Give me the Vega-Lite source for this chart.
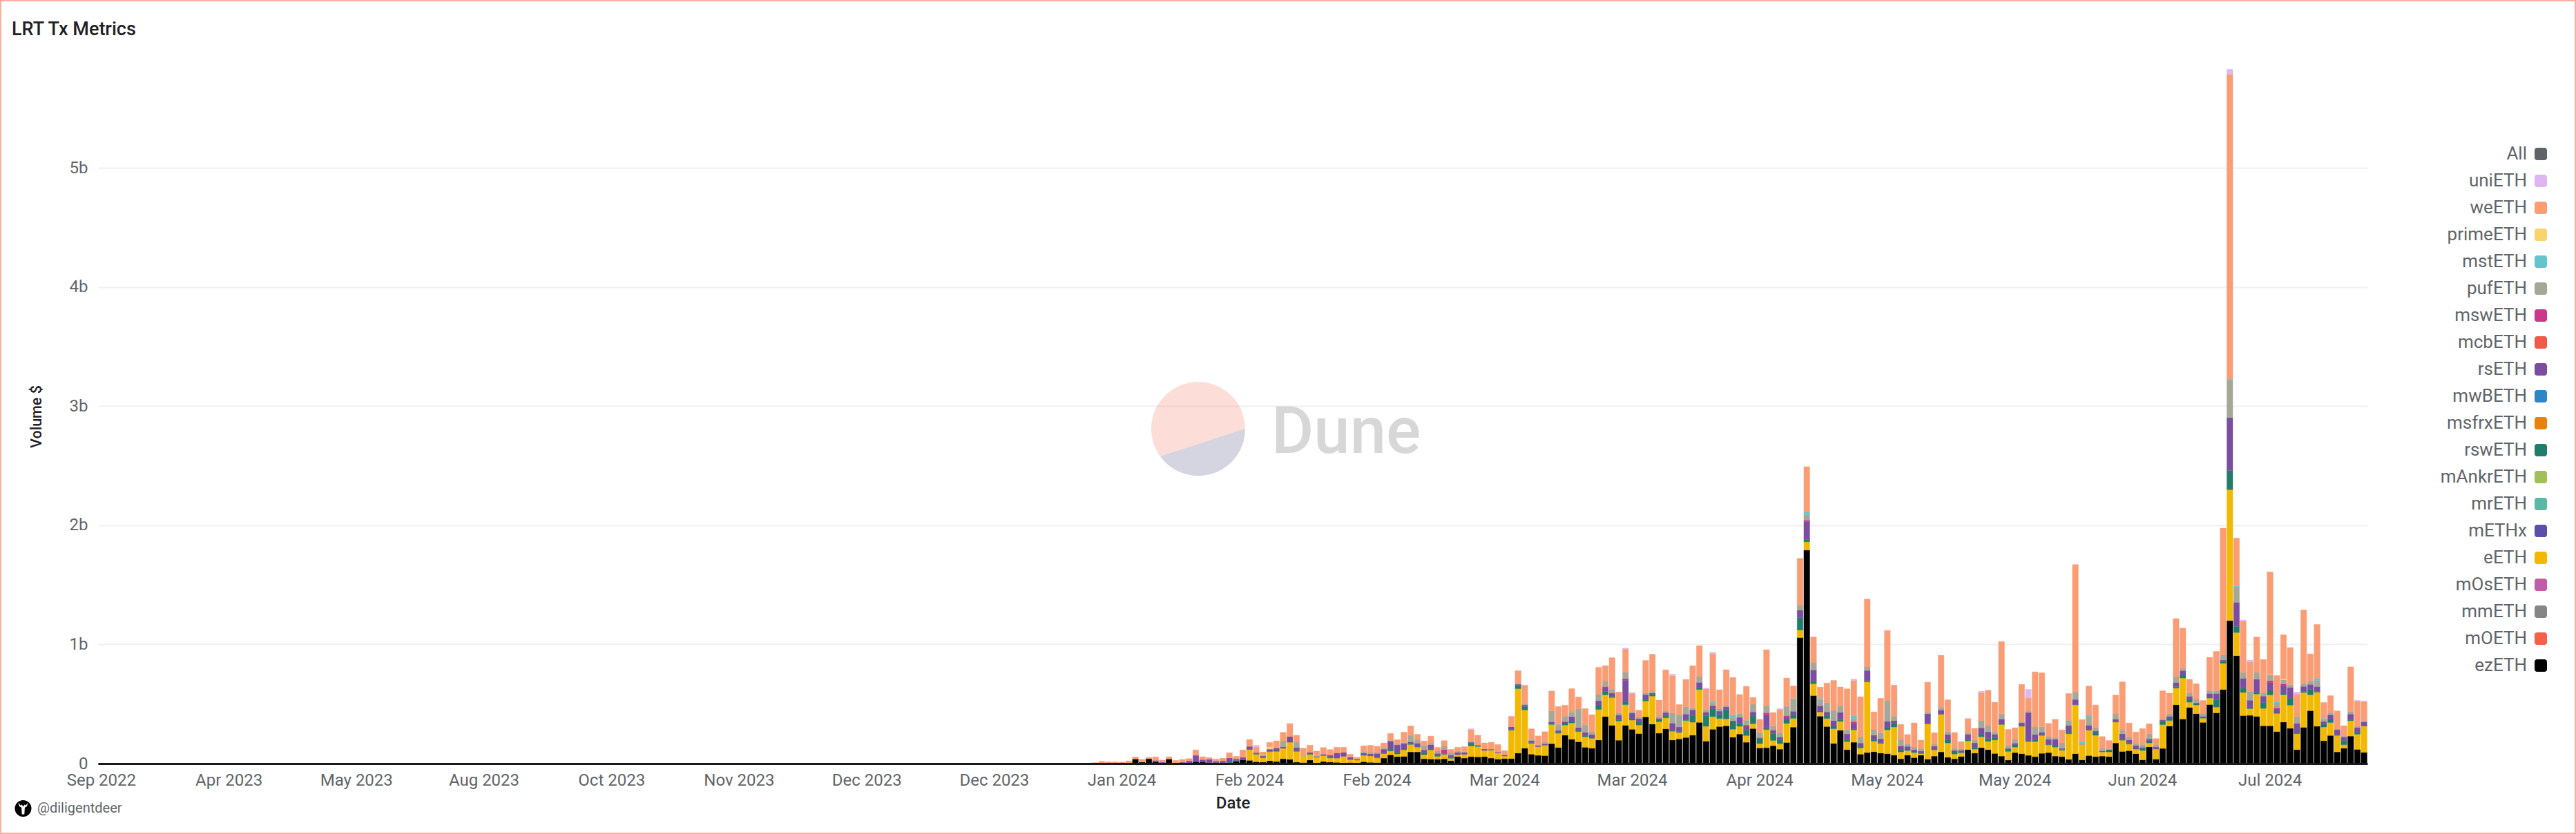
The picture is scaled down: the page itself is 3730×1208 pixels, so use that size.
{"$schema":"https://vega.github.io/schema/vega-lite/v6.json","width":3286,"height":1006,"autosize":{"type":"none"},"padding":{"left":142,"top":100,"right":302,"bottom":102},"background":"#ffffff","config":{"view":{"stroke":null},"font":"Roboto"},"title":{"text":"LRT Tx Metrics","anchor":"start","frame":"group","dx":-125,"dy":84,"offset":0,"baseline":"bottom","font":"Roboto","fontSize":27,"fontWeight":500,"color":"#1f2226"},"layer":[{"data":{"values":[
{"date":"2022-09-16","ezETH":2},{"date":"2023-03-25","ezETH":2},{"date":"2023-03-26","ezETH":2},{"date":"2023-03-27","ezETH":2},{"date":"2023-03-28","ezETH":2},{"date":"2023-03-29","ezETH":2},{"date":"2023-03-30","ezETH":2},{"date":"2023-03-31","ezETH":2},{"date":"2023-04-01","ezETH":2},{"date":"2023-04-02","ezETH":2},{"date":"2023-04-03","ezETH":2},{"date":"2023-04-04","ezETH":2},{"date":"2023-04-05","ezETH":2},{"date":"2023-04-06","ezETH":2},{"date":"2023-04-07","ezETH":2},{"date":"2023-04-08","ezETH":2},{"date":"2023-04-09","ezETH":2},{"date":"2023-04-10","ezETH":2},{"date":"2023-04-11","ezETH":2},{"date":"2023-04-12","ezETH":2},{"date":"2023-04-13","ezETH":2},{"date":"2023-04-14","ezETH":2},{"date":"2023-04-15","ezETH":2},{"date":"2023-04-16","ezETH":2},{"date":"2023-04-17","ezETH":2},{"date":"2023-04-18","ezETH":2},{"date":"2023-04-19","ezETH":2},{"date":"2023-04-20","ezETH":2},{"date":"2023-04-21","ezETH":2},{"date":"2023-04-22","ezETH":2},{"date":"2023-04-23","ezETH":2},{"date":"2023-04-24","ezETH":2},{"date":"2023-04-25","ezETH":2},{"date":"2023-04-26","ezETH":2},{"date":"2023-04-27","ezETH":2},{"date":"2023-04-28","ezETH":2},{"date":"2023-04-29","ezETH":2},{"date":"2023-04-30","ezETH":2},{"date":"2023-05-01","ezETH":2},{"date":"2023-05-06","ezETH":2},{"date":"2023-05-11","ezETH":2},{"date":"2023-05-16","ezETH":2},{"date":"2023-05-21","ezETH":2},{"date":"2023-05-26","ezETH":2},{"date":"2023-05-31","ezETH":2},{"date":"2023-06-05","ezETH":2},{"date":"2023-06-10","ezETH":2},{"date":"2023-06-15","ezETH":2},{"date":"2023-06-20","ezETH":2},{"date":"2023-06-25","ezETH":2},{"date":"2023-06-30","ezETH":2},{"date":"2023-07-05","ezETH":2},{"date":"2023-07-10","ezETH":2},{"date":"2023-07-15","ezETH":2},{"date":"2023-07-20","ezETH":2},{"date":"2023-07-25","ezETH":2},{"date":"2023-07-30","ezETH":2},{"date":"2023-08-04","ezETH":2},{"date":"2023-08-08","ezETH":2},{"date":"2023-08-12","ezETH":2},{"date":"2023-08-16","ezETH":2},{"date":"2023-08-20","ezETH":2},{"date":"2023-08-24","ezETH":2},{"date":"2023-08-28","ezETH":2},{"date":"2023-09-01","ezETH":2},{"date":"2023-09-05","ezETH":2},{"date":"2023-09-09","ezETH":2},{"date":"2023-09-13","ezETH":2},{"date":"2023-09-17","ezETH":2},{"date":"2023-09-21","ezETH":2},{"date":"2023-09-25","ezETH":2},{"date":"2023-09-29","ezETH":2},{"date":"2023-10-03","ezETH":2},{"date":"2023-10-07","ezETH":2},{"date":"2023-10-11","ezETH":2},{"date":"2023-10-15","ezETH":2},{"date":"2023-10-31","ezETH":2},{"date":"2023-11-01","ezETH":2},{"date":"2023-11-02","ezETH":2},{"date":"2023-11-03","ezETH":2},{"date":"2023-11-04","ezETH":2},{"date":"2023-11-05","ezETH":2},{"date":"2023-11-06","ezETH":2},{"date":"2023-11-07","ezETH":2},{"date":"2023-11-08","ezETH":2},{"date":"2023-11-09","ezETH":2},{"date":"2023-11-10","ezETH":2},{"date":"2023-11-11","ezETH":2},{"date":"2023-11-12","ezETH":2},{"date":"2023-11-13","ezETH":2},{"date":"2023-11-14","ezETH":2},{"date":"2023-11-15","ezETH":2},{"date":"2023-11-16","ezETH":2},{"date":"2023-11-17","ezETH":2},{"date":"2023-11-18","ezETH":2},{"date":"2023-11-19","ezETH":2},{"date":"2023-11-20","ezETH":2},{"date":"2023-11-21","ezETH":2},{"date":"2023-11-22","ezETH":2},{"date":"2023-11-23","ezETH":2},{"date":"2023-11-24","ezETH":2},{"date":"2023-11-25","ezETH":2},{"date":"2023-11-26","ezETH":2},{"date":"2023-11-27","ezETH":2},{"date":"2023-11-28","ezETH":2},{"date":"2023-11-29","ezETH":2},{"date":"2023-11-30","ezETH":2},{"date":"2023-12-01","ezETH":2},{"date":"2023-12-02","ezETH":2},{"date":"2023-12-03","ezETH":2},{"date":"2023-12-04","ezETH":2},{"date":"2023-12-05","ezETH":2},{"date":"2023-12-06","ezETH":2},{"date":"2023-12-07","ezETH":2},{"date":"2023-12-08","ezETH":2},{"date":"2023-12-09","ezETH":2},{"date":"2023-12-10","ezETH":2},{"date":"2023-12-11","ezETH":2},{"date":"2023-12-12","ezETH":2},{"date":"2023-12-13","ezETH":2},{"date":"2023-12-14","ezETH":2},{"date":"2023-12-15","ezETH":2},{"date":"2023-12-16","ezETH":2},{"date":"2023-12-17","ezETH":2},{"date":"2023-12-18","ezETH":2},{"date":"2023-12-19","ezETH":2},{"date":"2023-12-20","ezETH":2},{"date":"2023-12-21","ezETH":2},{"date":"2023-12-22","ezETH":2},{"date":"2023-12-23","ezETH":2},{"date":"2023-12-24","ezETH":2},{"date":"2023-12-25","ezETH":2},{"date":"2023-12-26","ezETH":2},{"date":"2023-12-27","ezETH":2},{"date":"2023-12-28","ezETH":2},{"date":"2023-12-29","ezETH":2},{"date":"2023-12-30","ezETH":2},{"date":"2023-12-31","ezETH":2},{"date":"2024-01-01","ezETH":2},{"date":"2024-01-02","ezETH":2},{"date":"2024-01-03","ezETH":2},{"date":"2024-01-04","ezETH":2},{"date":"2024-01-05","ezETH":2},{"date":"2024-01-06","ezETH":2},{"date":"2024-01-07","ezETH":2},{"date":"2024-01-08","ezETH":2},{"date":"2024-01-09","ezETH":2},{"date":"2024-01-10","ezETH":2},{"date":"2024-01-11","ezETH":2,"weETH":6},{"date":"2024-01-12","ezETH":2,"weETH":17},{"date":"2024-01-13","ezETH":2,"weETH":13},{"date":"2024-01-14","ezETH":2,"weETH":13},
{"date":"2024-01-15","ezETH":4,"weETH":10},{"date":"2024-01-16","ezETH":6,"eETH":2,"weETH":15},{"date":"2024-01-17","ezETH":38,"weETH":17},{"date":"2024-01-18","ezETH":12,"weETH":23},{"date":"2024-01-19","ezETH":40,"weETH":12},{"date":"2024-01-20","ezETH":15,"rsETH":12,"weETH":29},{"date":"2024-01-21","ezETH":4,"rsETH":8,"weETH":17},{"date":"2024-01-22","ezETH":38,"weETH":19},{"date":"2024-01-23","ezETH":6,"weETH":21},{"date":"2024-01-24","ezETH":4,"rsETH":8,"weETH":23},{"date":"2024-01-25","ezETH":4,"rsETH":19,"weETH":19},{"date":"2024-01-26","ezETH":15,"rsETH":54,"weETH":46},{"date":"2024-01-27","ezETH":12,"rsETH":21,"weETH":25},{"date":"2024-01-28","ezETH":6,"rsETH":29,"weETH":15},{"date":"2024-01-29","ezETH":6,"rsETH":15,"weETH":17},{"date":"2024-01-30","ezETH":6,"rsETH":17,"weETH":23},{"date":"2024-01-31","ezETH":6,"rswETH":6,"rsETH":35,"weETH":44},{"date":"2024-02-01","ezETH":19,"rswETH":8,"rsETH":12,"weETH":23},{"date":"2024-02-02","ezETH":31,"rsETH":21,"weETH":62},{"date":"2024-02-03","ezETH":27,"eETH":90,"rsETH":27,"weETH":58},{"date":"2024-02-04","ezETH":15,"eETH":63,"rswETH":6,"rsETH":8,"weETH":48,"uniETH":15},{"date":"2024-02-05","ezETH":12,"eETH":37,"rswETH":8,"rsETH":8,"weETH":33},{"date":"2024-02-06","ezETH":23,"eETH":77,"rsETH":21,"primeETH":19,"weETH":38},{"date":"2024-02-07","ezETH":17,"eETH":85,"rswETH":8,"rsETH":21,"weETH":60},{"date":"2024-02-08","ezETH":40,"eETH":88,"rsETH":13,"pufETH":50,"weETH":71},{"date":"2024-02-09","ezETH":35,"eETH":144,"rsETH":48,"weETH":104,"uniETH":8},{"date":"2024-02-10","ezETH":12,"eETH":90,"rswETH":6,"rsETH":27,"pufETH":48,"weETH":54},{"date":"2024-02-11","ezETH":8,"eETH":54,"pufETH":6,"weETH":62},{"date":"2024-02-12","ezETH":29,"eETH":48,"rswETH":4,"rsETH":12,"weETH":62},{"date":"2024-02-13","ezETH":6,"eETH":48,"rswETH":6,"pufETH":8,"weETH":37},{"date":"2024-02-14","ezETH":17,"eETH":50,"rsETH":12,"weETH":56},{"date":"2024-02-15","ezETH":12,"eETH":35,"rswETH":8,"rsETH":15,"weETH":48},{"date":"2024-02-16","ezETH":10,"eETH":35,"rsETH":44,"weETH":48},{"date":"2024-02-17","ezETH":6,"eETH":54,"rsETH":33,"weETH":44},{"date":"2024-02-18","ezETH":8,"eETH":25,"rsETH":21,"weETH":25},{"date":"2024-02-19","ezETH":6,"eETH":23,"rsETH":8,"weETH":15},{"date":"2024-02-20","ezETH":15,"eETH":54,"rswETH":6,"rsETH":13,"pufETH":15,"weETH":46},{"date":"2024-02-21","ezETH":10,"eETH":54,"rsETH":17,"pufETH":12,"weETH":61},{"date":"2024-02-22","ezETH":8,"eETH":40,"rsETH":37,"pufETH":8,"weETH":52},{"date":"2024-02-23","ezETH":46,"eETH":38,"rswETH":4,"rsETH":33,"pufETH":10,"weETH":42},{"date":"2024-02-24","ezETH":73,"eETH":33,"rswETH":21,"rsETH":62,"pufETH":6,"weETH":58},{"date":"2024-02-25","ezETH":58,"eETH":23,"rswETH":13,"rsETH":63,"pufETH":6,"weETH":38},{"date":"2024-02-26","ezETH":60,"eETH":56,"rsETH":52,"pufETH":8,"weETH":88},{"date":"2024-02-27","ezETH":98,"eETH":62,"rswETH":10,"rsETH":13,"pufETH":54,"weETH":79},{"date":"2024-02-28","ezETH":98,"eETH":40,"rsETH":33,"pufETH":31,"weETH":44},{"date":"2024-02-29","ezETH":40,"eETH":35,"rswETH":21,"rsETH":19,"pufETH":37,"weETH":38},
{"date":"2024-03-01","ezETH":38,"eETH":77,"rswETH":10,"rsETH":33,"pufETH":15,"weETH":58},{"date":"2024-03-02","ezETH":37,"eETH":23,"rswETH":12,"rsETH":10,"mswETH":4,"pufETH":21,"weETH":29},{"date":"2024-03-03","ezETH":40,"eETH":37,"rswETH":8,"mswETH":33,"pufETH":27,"weETH":48},{"date":"2024-03-04","ezETH":25,"eETH":19,"rswETH":6,"rsETH":21,"pufETH":21,"weETH":27},{"date":"2024-03-05","ezETH":58,"eETH":17,"rsETH":19,"pufETH":12,"weETH":31},{"date":"2024-03-06","ezETH":46,"eETH":31,"rsETH":17,"pufETH":6,"weETH":42},{"date":"2024-03-07","ezETH":58,"eETH":90,"rswETH":25,"rsETH":6,"pufETH":6,"weETH":100,"uniETH":8},{"date":"2024-03-08","ezETH":56,"eETH":87,"rswETH":6,"rsETH":6,"weETH":83},{"date":"2024-03-09","ezETH":58,"eETH":52,"rsETH":12,"weETH":52},{"date":"2024-03-10","ezETH":46,"eETH":67,"rsETH":8,"weETH":58},{"date":"2024-03-11","ezETH":37,"eETH":52,"rsETH":8,"weETH":63},{"date":"2024-03-12","ezETH":42,"eETH":21,"rsETH":10,"weETH":35},{"date":"2024-03-13","ezETH":42,"eETH":238,"rswETH":8,"rsETH":21,"weETH":85,"uniETH":6},{"date":"2024-03-14","ezETH":88,"eETH":540,"rswETH":25,"rsETH":13,"pufETH":8,"weETH":106},{"date":"2024-03-15","ezETH":129,"eETH":321,"rswETH":29,"rsETH":13,"pufETH":10,"weETH":152,"uniETH":6},{"date":"2024-03-16","ezETH":79,"eETH":90,"rswETH":8,"rsETH":15,"pufETH":8,"weETH":92},{"date":"2024-03-17","ezETH":69,"eETH":73,"rsETH":10,"pufETH":8,"weETH":73},{"date":"2024-03-18","ezETH":67,"eETH":87,"rsETH":12,"pufETH":15,"weETH":87},{"date":"2024-03-19","ezETH":167,"eETH":161,"rswETH":10,"rsETH":12,"pufETH":92,"weETH":167},{"date":"2024-03-20","ezETH":135,"eETH":119,"rswETH":8,"rsETH":17,"pufETH":50,"weETH":150},{"date":"2024-03-21","ezETH":238,"eETH":85,"rswETH":19,"rsETH":10,"pufETH":46,"weETH":92},{"date":"2024-03-22","ezETH":204,"eETH":137,"rswETH":13,"rsETH":37,"mswETH":4,"pufETH":38,"weETH":196},{"date":"2024-03-23","ezETH":183,"eETH":85,"rswETH":12,"rsETH":23,"pufETH":156,"weETH":100},{"date":"2024-03-24","ezETH":137,"eETH":88,"rswETH":8,"rsETH":29,"pufETH":62,"weETH":138},{"date":"2024-03-25","ezETH":129,"eETH":83,"rswETH":8,"rsETH":23,"pufETH":25,"weETH":142},{"date":"2024-03-26","ezETH":198,"eETH":256,"rswETH":33,"rsETH":40,"pufETH":54,"weETH":227},{"date":"2024-03-27","ezETH":394,"eETH":183,"rswETH":29,"rsETH":31,"mswETH":10,"pufETH":48,"weETH":127},{"date":"2024-03-28","ezETH":321,"eETH":233,"rswETH":12,"rsETH":25,"pufETH":29,"weETH":269},{"date":"2024-03-29","ezETH":196,"eETH":161,"rswETH":12,"rsETH":38,"pufETH":17,"weETH":177},{"date":"2024-03-30","ezETH":321,"eETH":173,"rswETH":23,"rsETH":183,"mswETH":13,"pufETH":54,"weETH":194,"uniETH":8},{"date":"2024-03-31","ezETH":288,"eETH":77,"rswETH":12,"rsETH":46,"pufETH":15,"weETH":152,"uniETH":6},
{"date":"2024-04-01","ezETH":252,"eETH":71,"rswETH":25,"rsETH":29,"pufETH":13,"weETH":58},{"date":"2024-04-02","ezETH":392,"eETH":133,"rswETH":13,"rsETH":40,"pufETH":17,"weETH":271},{"date":"2024-04-03","ezETH":331,"eETH":236,"rswETH":17,"rsETH":8,"pufETH":15,"weETH":311},{"date":"2024-04-04","ezETH":255,"eETH":96,"rswETH":19,"rsETH":10,"pufETH":15,"weETH":138},{"date":"2024-04-05","ezETH":292,"eETH":92,"rswETH":19,"rsETH":25,"pufETH":13,"weETH":346},{"date":"2024-04-06","ezETH":198,"eETH":73,"rswETH":10,"rsETH":58,"pufETH":85,"weETH":315,"uniETH":12},{"date":"2024-04-07","ezETH":207,"eETH":54,"rswETH":10,"rsETH":37,"pufETH":102,"weETH":86},{"date":"2024-04-08","ezETH":219,"eETH":142,"rswETH":8,"rsETH":46,"pufETH":61,"weETH":230},{"date":"2024-04-09","ezETH":238,"eETH":109,"rswETH":58,"rsETH":46,"pufETH":15,"weETH":355},{"date":"2024-04-10","ezETH":346,"eETH":275,"rswETH":21,"rsETH":40,"pufETH":48,"weETH":259},{"date":"2024-04-11","ezETH":188,"eETH":125,"rswETH":90,"rsETH":29,"pufETH":21,"weETH":173,"uniETH":8},{"date":"2024-04-12","ezETH":288,"eETH":106,"rswETH":67,"rsETH":25,"pufETH":29,"mstETH":8,"weETH":401,"uniETH":10},{"date":"2024-04-13","ezETH":311,"eETH":67,"rswETH":37,"rsETH":25,"pufETH":19,"weETH":161},{"date":"2024-04-14","ezETH":317,"eETH":58,"rswETH":79,"rsETH":21,"pufETH":12,"weETH":301},{"date":"2024-04-15","ezETH":221,"eETH":67,"rswETH":60,"rsETH":12,"pufETH":29,"mstETH":19,"weETH":315},{"date":"2024-04-16","ezETH":248,"eETH":65,"rswETH":21,"rsETH":54,"pufETH":31,"weETH":161},{"date":"2024-04-17","ezETH":179,"eETH":56,"rswETH":42,"rsETH":37,"mswETH":10,"pufETH":40,"weETH":284},{"date":"2024-04-18","ezETH":294,"eETH":40,"rswETH":71,"rsETH":29,"pufETH":65,"weETH":56},{"date":"2024-04-19","ezETH":131,"eETH":37,"rswETH":44,"rsETH":6,"pufETH":40,"weETH":113},{"date":"2024-04-20","ezETH":133,"eETH":152,"rswETH":12,"rsETH":111,"mswETH":19,"pufETH":56,"weETH":473},{"date":"2024-04-21","ezETH":150,"eETH":44,"rswETH":58,"rsETH":29,"pufETH":33,"weETH":115},{"date":"2024-04-22","ezETH":121,"eETH":46,"rswETH":35,"rsETH":21,"pufETH":33,"weETH":196,"uniETH":10},{"date":"2024-04-23","ezETH":177,"eETH":160,"rswETH":35,"rsETH":21,"mswETH":10,"pufETH":77,"weETH":238},{"date":"2024-04-24","ezETH":306,"eETH":73,"rswETH":31,"rsETH":29,"pufETH":102,"mstETH":6,"weETH":104},{"date":"2024-04-25","ezETH":1058,"eETH":63,"rswETH":104,"rsETH":62,"pufETH":44,"weETH":392},{"date":"2024-04-26","ezETH":1792,"eETH":69,"rswETH":21,"rsETH":150,"mswETH":12,"pufETH":46,"mstETH":23,"weETH":379},{"date":"2024-04-27","ezETH":571,"eETH":98,"rswETH":23,"rsETH":94,"pufETH":54,"mstETH":6,"weETH":217},{"date":"2024-04-28","ezETH":398,"eETH":35,"rswETH":8,"rsETH":44,"pufETH":50,"mstETH":13,"weETH":94},{"date":"2024-04-29","ezETH":311,"eETH":67,"rswETH":27,"rsETH":29,"pufETH":71,"mstETH":6,"weETH":165},{"date":"2024-04-30","ezETH":169,"eETH":123,"rswETH":21,"rsETH":48,"pufETH":85,"weETH":252},
{"date":"2024-05-01","ezETH":279,"eETH":75,"rswETH":15,"rsETH":60,"pufETH":56,"weETH":158},{"date":"2024-05-02","ezETH":117,"eETH":67,"rswETH":17,"rsETH":48,"pufETH":37,"weETH":342},{"date":"2024-05-03","ezETH":179,"eETH":104,"rswETH":8,"rsETH":44,"mswETH":17,"pufETH":27,"mstETH":25,"weETH":294,"uniETH":12},{"date":"2024-05-04","ezETH":79,"eETH":52,"rswETH":13,"rsETH":29,"pufETH":48,"weETH":340},{"date":"2024-05-05","ezETH":92,"eETH":594,"rswETH":12,"rsETH":83,"pufETH":31,"weETH":569},{"date":"2024-05-06","ezETH":100,"eETH":88,"rswETH":13,"rsETH":37,"pufETH":46,"weETH":150},{"date":"2024-05-07","ezETH":88,"eETH":81,"rswETH":6,"rsETH":33,"pufETH":48,"weETH":292},{"date":"2024-05-08","ezETH":83,"eETH":200,"rswETH":23,"rsETH":48,"pufETH":173,"weETH":588,"uniETH":6},{"date":"2024-05-09","ezETH":71,"eETH":236,"rswETH":31,"rsETH":23,"pufETH":35,"weETH":263},{"date":"2024-05-10","ezETH":40,"eETH":58,"rswETH":17,"rsETH":33,"pufETH":56,"weETH":125},{"date":"2024-05-11","ezETH":71,"eETH":38,"rswETH":6,"rsETH":29,"pufETH":21,"weETH":79},{"date":"2024-05-12","ezETH":50,"eETH":42,"rswETH":13,"rsETH":12,"pufETH":23,"weETH":202},{"date":"2024-05-13","ezETH":71,"eETH":13,"rswETH":8,"rsETH":13,"pufETH":21,"weETH":71},{"date":"2024-05-14","ezETH":37,"eETH":296,"rsETH":85,"pufETH":13,"weETH":252},{"date":"2024-05-15","ezETH":63,"eETH":52,"rswETH":6,"rsETH":25,"pufETH":17,"weETH":96},{"date":"2024-05-16","ezETH":98,"eETH":315,"rsETH":37,"pufETH":23,"weETH":436},{"date":"2024-05-17","ezETH":52,"eETH":121,"rswETH":25,"rsETH":46,"pufETH":25,"weETH":267},{"date":"2024-05-18","ezETH":40,"eETH":40,"rswETH":25,"rsETH":6,"pufETH":17,"weETH":133},{"date":"2024-05-19","ezETH":60,"eETH":29,"rswETH":6,"rsETH":15,"pufETH":15,"weETH":60},{"date":"2024-05-20","ezETH":117,"eETH":73,"rswETH":8,"rsETH":46,"pufETH":13,"weETH":121},{"date":"2024-05-21","ezETH":88,"eETH":33,"rswETH":17,"rsETH":37,"pufETH":21,"weETH":100},{"date":"2024-05-22","ezETH":133,"eETH":92,"rswETH":23,"rsETH":52,"pufETH":60,"weETH":235,"uniETH":13},{"date":"2024-05-23","ezETH":117,"eETH":69,"rswETH":25,"rsETH":56,"pufETH":52,"weETH":296},{"date":"2024-05-24","ezETH":85,"eETH":113,"rswETH":19,"rsETH":29,"pufETH":19,"weETH":250},{"date":"2024-05-25","ezETH":63,"eETH":265,"rswETH":8,"rsETH":38,"pufETH":44,"weETH":607},{"date":"2024-05-26","ezETH":29,"eETH":73,"rswETH":19,"rsETH":6,"pufETH":23,"weETH":137},{"date":"2024-05-27","ezETH":92,"eETH":46,"rswETH":19,"rsETH":15,"pufETH":31,"weETH":98},{"date":"2024-05-28","ezETH":83,"eETH":230,"rswETH":6,"rsETH":23,"pufETH":6,"weETH":317},{"date":"2024-05-29","ezETH":69,"eETH":115,"rswETH":4,"rsETH":240,"pufETH":12,"weETH":113,"uniETH":71},{"date":"2024-05-30","ezETH":58,"eETH":127,"rswETH":13,"rsETH":46,"pufETH":63,"weETH":463},{"date":"2024-05-31","ezETH":86,"eETH":150,"rswETH":10,"rsETH":17,"pufETH":46,"weETH":453},
{"date":"2024-06-01","ezETH":92,"eETH":65,"rswETH":4,"rsETH":42,"pufETH":23,"weETH":111},{"date":"2024-06-02","ezETH":63,"eETH":75,"rswETH":12,"rsETH":54,"pufETH":15,"weETH":152},{"date":"2024-06-03","ezETH":58,"eETH":54,"rswETH":6,"rsETH":10,"pufETH":46,"weETH":109},{"date":"2024-06-04","ezETH":35,"eETH":215,"rswETH":15,"rsETH":54,"pufETH":44,"weETH":225},{"date":"2024-06-05","ezETH":83,"eETH":409,"rswETH":4,"rsETH":42,"pufETH":61,"weETH":1072},{"date":"2024-06-06","ezETH":31,"eETH":125,"pufETH":13,"mstETH":15,"weETH":186},{"date":"2024-06-07","ezETH":67,"eETH":213,"rsETH":42,"pufETH":73,"mstETH":12,"weETH":244},{"date":"2024-06-08","ezETH":58,"eETH":179,"rswETH":23,"rsETH":13,"pufETH":31,"weETH":188},{"date":"2024-06-09","ezETH":63,"eETH":35,"rsETH":8,"pufETH":21,"weETH":100},{"date":"2024-06-10","ezETH":58,"eETH":40,"rswETH":19,"pufETH":8,"weETH":69},{"date":"2024-06-11","ezETH":173,"eETH":175,"rsETH":23,"pufETH":46,"weETH":158},{"date":"2024-06-12","ezETH":102,"eETH":94,"rswETH":8,"rsETH":46,"pufETH":33,"weETH":403},{"date":"2024-06-13","ezETH":108,"eETH":56,"rsETH":35,"pufETH":23,"weETH":119},{"date":"2024-06-14","ezETH":83,"eETH":38,"rsETH":31,"pufETH":19,"weETH":94},{"date":"2024-06-15","ezETH":31,"eETH":79,"rswETH":21,"rsETH":6,"pufETH":23,"weETH":134},{"date":"2024-06-16","ezETH":140,"eETH":33,"rswETH":19,"rsETH":15,"pufETH":44,"weETH":83},{"date":"2024-06-17","ezETH":37,"eETH":85,"rsETH":17,"pufETH":17,"weETH":54},{"date":"2024-06-18","ezETH":127,"eETH":200,"rswETH":23,"rsETH":15,"pufETH":8,"weETH":238},{"date":"2024-06-19","ezETH":315,"eETH":46,"rswETH":21,"rsETH":15,"pufETH":23,"weETH":171},{"date":"2024-06-20","ezETH":494,"eETH":140,"rswETH":12,"rsETH":35,"pufETH":50,"weETH":486},{"date":"2024-06-21","ezETH":374,"eETH":344,"rswETH":29,"rsETH":33,"pufETH":19,"weETH":338},{"date":"2024-06-22","ezETH":471,"eETH":44,"rswETH":29,"rsETH":21,"pufETH":27,"weETH":115},{"date":"2024-06-23","ezETH":419,"eETH":73,"rswETH":8,"rsETH":12,"pufETH":27,"weETH":131},{"date":"2024-06-24","ezETH":346,"eETH":35,"rswETH":8,"rsETH":8,"pufETH":25,"weETH":108},{"date":"2024-06-25","ezETH":496,"eETH":54,"rswETH":8,"rsETH":31,"pufETH":23,"weETH":280},{"date":"2024-06-26","ezETH":426,"eETH":48,"rswETH":63,"rsETH":52,"pufETH":23,"weETH":330},{"date":"2024-06-27","ezETH":622,"eETH":219,"rswETH":19,"rsETH":10,"pufETH":42,"weETH":1064},{"date":"2024-06-28","ezETH":1199,"eETH":1101,"rswETH":160,"rsETH":444,"pufETH":315,"mstETH":8,"weETH":2561,"uniETH":40},{"date":"2024-06-29","ezETH":906,"eETH":194,"rswETH":52,"rsETH":202,"pufETH":132,"mstETH":6,"weETH":401},{"date":"2024-06-30","ezETH":403,"eETH":194,"rswETH":36,"rsETH":83,"pufETH":48,"weETH":434,"uniETH":6},
{"date":"2024-07-01","ezETH":405,"eETH":56,"rswETH":15,"rsETH":56,"pufETH":73,"weETH":250,"uniETH":15},{"date":"2024-07-02","ezETH":396,"eETH":188,"rswETH":15,"rsETH":109,"pufETH":60,"weETH":294},{"date":"2024-07-03","ezETH":317,"eETH":146,"rswETH":50,"rsETH":54,"pufETH":25,"weETH":282},{"date":"2024-07-04","ezETH":317,"eETH":259,"rswETH":38,"rsETH":65,"mswETH":17,"pufETH":48,"primeETH":4,"weETH":860},{"date":"2024-07-05","ezETH":269,"eETH":152,"rswETH":8,"rsETH":29,"mswETH":10,"pufETH":42,"mstETH":10,"weETH":219},{"date":"2024-07-06","ezETH":348,"eETH":230,"rswETH":17,"rsETH":61,"mswETH":13,"pufETH":35,"primeETH":8,"weETH":369},{"date":"2024-07-07","ezETH":296,"eETH":194,"rswETH":60,"rsETH":90,"pufETH":23,"weETH":311},{"date":"2024-07-08","ezETH":117,"eETH":133,"rswETH":10,"rsETH":77,"pufETH":60,"weETH":186,"uniETH":17},{"date":"2024-07-09","ezETH":304,"eETH":292,"rswETH":8,"rsETH":44,"pufETH":25,"weETH":617},{"date":"2024-07-10","ezETH":444,"eETH":133,"rswETH":44,"rsETH":44,"pufETH":29,"weETH":227},{"date":"2024-07-11","ezETH":313,"eETH":286,"rswETH":6,"rsETH":42,"pufETH":50,"mstETH":19,"weETH":452},{"date":"2024-07-12","ezETH":192,"eETH":115,"rswETH":25,"rsETH":21,"pufETH":17,"mstETH":10,"weETH":133},{"date":"2024-07-13","ezETH":236,"eETH":108,"rswETH":27,"rsETH":38,"pufETH":19,"weETH":142},{"date":"2024-07-14","ezETH":98,"eETH":138,"rswETH":6,"rsETH":42,"pufETH":6,"weETH":152},{"date":"2024-07-15","ezETH":129,"eETH":29,"rswETH":35,"rsETH":29,"pufETH":10,"weETH":86},{"date":"2024-07-16","ezETH":231,"eETH":129,"rswETH":6,"rsETH":50,"pufETH":21,"weETH":375},{"date":"2024-07-17","ezETH":119,"eETH":127,"rswETH":19,"rsETH":37,"pufETH":13,"weETH":210,"uniETH":6},{"date":"2024-07-18","ezETH":94,"eETH":221,"rswETH":4,"rsETH":29,"pufETH":12,"weETH":160,"uniETH":6}
]},"transform":[{"fold":["ezETH","eETH","rswETH","rsETH","mswETH","pufETH","mstETH","primeETH","weETH","uniETH"],"as":["series","volume"]},{"filter":"datum.volume>0"},{"lookup":"series","from":{"data":{"values":[{"series":"ezETH","rank":0},{"series":"eETH","rank":1},{"series":"rswETH","rank":2},{"series":"rsETH","rank":3},{"series":"mswETH","rank":4},{"series":"pufETH","rank":5},{"series":"mstETH","rank":6},{"series":"primeETH","rank":7},{"series":"weETH","rank":8},{"series":"uniETH","rank":9}]},"key":"series","fields":["rank"]}}],"mark":{"type":"bar","strokeWidth":1,"strokeOpacity":0.35},"encoding":{"x":{"field":"date","type":"ordinal","scale":{"paddingInner":0.12,"paddingOuter":0.06,"round":false},"axis":{"title":"Date","titleFont":"Roboto","titleFontSize":24,"titleFontWeight":500,"titleColor":"#1f2226","titlePadding":9,"labelFont":"Roboto","labelFontSize":24,"labelColor":"#5f6569","labelAngle":0,"labelOverlap":false,"labelPadding":12,"ticks":false,"domainColor":"#1a1a1a","domainWidth":3,"zindex":1,"labelExpr":"utcFormat(toDate(datum.value),'%b %Y')","values":["2022-09-16","2023-04-12","2023-05-01","2023-08-04","2023-10-31","2023-11-19","2023-12-08","2023-12-27","2024-01-15","2024-02-03","2024-02-22","2024-03-12","2024-03-31","2024-04-19","2024-05-08","2024-05-27","2024-06-15","2024-07-04"]}},"y":{"field":"volume","type":"quantitative","stack":"zero","scale":{"domain":[0,5830],"nice":false},"axis":{"title":"Volume $","titleFont":"Roboto","titleFontSize":21.5,"titleFontWeight":500,"titleColor":"#1f2226","titlePadding":36,"labelFont":"Roboto","labelFontSize":24,"labelColor":"#5f6569","labelPadding":15,"ticks":false,"domain":false,"gridColor":"#f0f0f1","gridWidth":2,"values":[0,1000,2000,3000,4000,5000],"labelExpr":"datum.value==0?'0':(datum.value/1000)+'b'"}},"order":{"field":"rank","type":"quantitative"},"color":{"field":"series","type":"nominal","scale":{"domain":["All","uniETH","weETH","primeETH","mstETH","pufETH","mswETH","mcbETH","rsETH","mwBETH","msfrxETH","rswETH","mAnkrETH","mrETH","mETHx","eETH","mOsETH","mmETH","mOETH","ezETH"],"range":["#5f6468","#e0b6f0","#fa9c74","#f8d46e","#65c5cd","#a5a897","#cc368b","#f05a4a","#7a4da0","#2e86c5","#e8820c","#227c6a","#a2bf58","#5ab8a4","#5a50a8","#f3b900","#c35ba8","#868686","#f4614a","#000000"]},"legend":{"title":null,"orient":"none","legendX":3519,"legendY":105,"symbolType":"M-0.3 -0.5 H0.3 A0.2 0.2 0 0 1 0.5 -0.3 V0.3 A0.2 0.2 0 0 1 0.3 0.5 H-0.3 A0.2 0.2 0 0 1 -0.5 0.3 V-0.3 A0.2 0.2 0 0 1 -0.3 -0.5 Z","symbolSize":1296,"symbolStrokeWidth":0,"labelAlign":"right","labelOffset":-38,"labelFont":"Roboto","labelFontSize":26,"labelColor":"#5f6569","labelLimit":400,"rowPadding":8,"values":["All","uniETH","weETH","primeETH","mstETH","pufETH","mswETH","mcbETH","rsETH","mwBETH","msfrxETH","rswETH","mAnkrETH","mrETH","mETHx","eETH","mOsETH","mmETH","mOETH","ezETH"]}},"stroke":{"field":"series","type":"nominal","legend":null,"scale":{"domain":["All","uniETH","weETH","primeETH","mstETH","pufETH","mswETH","mcbETH","rsETH","mwBETH","msfrxETH","rswETH","mAnkrETH","mrETH","mETHx","eETH","mOsETH","mmETH","mOETH","ezETH"],"range":["#5f6468","#e0b6f0","#fa9c74","#f8d46e","#65c5cd","#a5a897","#cc368b","#f05a4a","#7a4da0","#2e86c5","#e8820c","#227c6a","#a2bf58","#5ab8a4","#5a50a8","#f3b900","#c35ba8","#868686","#f4614a","#000000"]}}}},
{"data":{"values":[{"mark":"watermark"}]},"mark":{"type":"point","filled":true,"shape":"M-0.81 0.56 A1 1 0 1 1 1 -0.03 Z","size":18496,"fill":"#f9795f","opacity":0.25,"strokeWidth":0},"encoding":{"x":{"value":1593},"y":{"value":523}}},
{"data":{"values":[{"mark":"watermark"}]},"mark":{"type":"point","filled":true,"shape":"M1 -0.03 A1 1 0 0 1 -0.81 0.56 Z","size":18496,"fill":"#57578b","opacity":0.25,"strokeWidth":0},"encoding":{"x":{"value":1593},"y":{"value":523}}},
{"data":{"values":[{"label":"Dune"}]},"mark":{"type":"text","font":"Roboto","fontSize":94,"fontWeight":500,"fill":"#5f635f","opacity":0.25,"align":"left","baseline":"alphabetic"},"encoding":{"text":{"field":"label"},"x":{"value":1699},"y":{"value":556}}},
{"data":{"values":[{"label":"@diligentdeer"}]},"mark":{"type":"text","font":"Roboto","fontSize":20,"fill":"#5f6569","align":"left","baseline":"middle"},"encoding":{"text":{"field":"label"},"x":{"value":-88},"y":{"value":1071}}},
{"data":{"values":[{"mark":"avatar"}]},"mark":{"type":"point","filled":true,"size":576,"fill":"#000000","shape":"circle","opacity":1,"strokeWidth":0},"encoding":{"x":{"value":-108.5},"y":{"value":1071}}},
{"data":{"values":[{"mark":"avatar"}]},"mark":{"type":"point","filled":true,"size":576,"fill":"#ffffff","opacity":1,"strokeWidth":0,"shape":"M-0.6 -0.7 L-0.45 -0.25 L-0.2 -0.1 L-0.15 0.7 L0.15 0.7 L0.2 -0.1 L0.45 -0.25 L0.6 -0.7 L0.3 -0.35 L0.15 -0.45 L0 -0.2 L-0.15 -0.45 L-0.3 -0.35 Z"},"encoding":{"x":{"value":-108.5},"y":{"value":1071}}},
{"data":{"values":[{"mark":"frame"}]},"mark":{"type":"rect","fill":null,"stroke":"#ffaea2","strokeWidth":2},"encoding":{"x":{"value":-141},"x2":{"value":3587},"y":{"value":-99},"y2":{"value":1107}}}
]}
